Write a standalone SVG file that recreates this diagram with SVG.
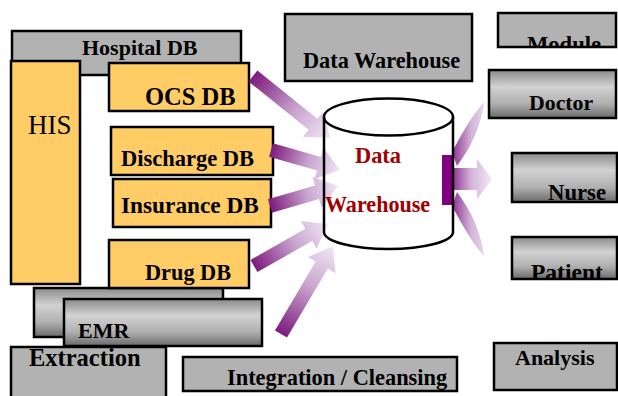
<svg xmlns="http://www.w3.org/2000/svg" width="618" height="396" viewBox="0 0 618 396">
  <defs>
    <!-- shaded "bar" look for the rounded gray boxes -->
    <linearGradient id="barShade" x1="0" y1="0" x2="0" y2="1">
      <stop offset="0" stop-color="#8a8a8a"/>
      <stop offset="0.35" stop-color="#d2d2d2"/>
      <stop offset="0.7" stop-color="#b0b0b0"/>
      <stop offset="1" stop-color="#6a6a6a"/>
    </linearGradient>
    <!-- flow arrows fade from purple tail to pale head -->
    <linearGradient id="flowFade" x1="0" y1="0" x2="1" y2="0">
      <stop offset="0" stop-color="#7d1a7d"/>
      <stop offset="0.55" stop-color="#c9a6cf"/>
      <stop offset="1" stop-color="#f1e6f4"/>
    </linearGradient>
    <linearGradient id="fanFade" gradientUnits="userSpaceOnUse" x1="450" y1="0" x2="492" y2="0">
      <stop offset="0" stop-color="#862086"/>
      <stop offset="0.5" stop-color="#d2b4d8"/>
      <stop offset="1" stop-color="#f3e9f6"/>
    </linearGradient>
    <clipPath id="clipModule"><rect x="498" y="13" width="118" height="33"/></clipPath>
    <clipPath id="clipPatient"><rect x="512" y="237" width="105" height="41"/></clipPath>
    <path id="arrowShape" d="M0,-7 L-22,-7 L-22,-16 L0,0 L-22,16 L-22,7 Z"/>
    <style>
      .box { stroke: #000; stroke-width: 2.5; }
      .gray { fill: #b2b2b2; }
      .orange { fill: #ffcc66; }
      .shade { fill: url(#barShade); }
      .lbl { font-family: "Liberation Serif", "Times New Roman", serif; font-weight: bold; fill: #000; }
      .red { fill: #a00000; }
      .flow { fill: url(#flowFade); }
    </style>
  </defs>

  <rect width="618" height="396" fill="#fff"/>

  <!-- source systems -->
  <g id="hospital-db">
    <rect class="box gray" x="12" y="31" width="229" height="44"/>
    <text class="lbl" x="82" y="55" font-size="22">Hospital DB</text>
  </g>
  <g id="his">
    <rect class="box orange" x="11" y="61" width="69" height="223"/>
    <text x="28" y="134" font-family="Liberation Serif, serif" font-size="27">HIS</text>
  </g>
  <g id="ocs-db">
    <rect class="box orange" x="109" y="63" width="140" height="48"/>
    <text class="lbl" x="145" y="105" font-size="24.5">OCS DB</text>
  </g>
  <g id="discharge-db">
    <rect class="box orange" x="111" y="127" width="162" height="48"/>
    <text class="lbl" x="121" y="166" font-size="22.5">Discharge DB</text>
  </g>
  <g id="insurance-db">
    <rect class="box orange" x="113" y="179" width="158" height="48"/>
    <text class="lbl" x="121" y="213" font-size="23.3">Insurance DB</text>
  </g>
  <g id="emr-back">
    <rect class="box shade" x="34" y="288" width="189" height="49"/>
  </g>
  <g id="drug-db">
    <rect class="box orange" x="109" y="240" width="140" height="48"/>
    <text class="lbl" x="145" y="280" font-size="22.3">Drug DB</text>
  </g>
  <g id="extraction">
    <rect class="box gray" x="11" y="347" width="155" height="55"/>
    <text class="lbl" x="29" y="366" font-size="24.5">Extraction</text>
  </g>
  <g id="emr">
    <rect class="box shade" x="64" y="299" width="198" height="47"/>
    <text class="lbl" x="78" y="338" font-size="22">EMR</text>
  </g>
  <g id="integration">
    <rect class="box gray" x="183" y="357" width="274" height="34"/>
    <text class="lbl" x="227" y="385" font-size="22.4">Integration / Cleansing</text>
  </g>

  <!-- stage headers -->
  <g id="data-warehouse-title">
    <rect class="box gray" x="285" y="14" width="187" height="67"/>
    <text class="lbl" x="303" y="68" font-size="22.3">Data Warehouse</text>
  </g>
  <g id="module">
    <rect class="box gray" x="498" y="13" width="118" height="34"/>
    <text class="lbl" x="527" y="52" font-size="22.6" clip-path="url(#clipModule)">Module</text>
  </g>
  <g id="analysis">
    <rect class="box gray" x="494" y="343" width="123" height="47"/>
    <text class="lbl" x="515" y="365" font-size="22">Analysis</text>
  </g>

  <!-- output modules -->
  <g id="doctor">
    <rect class="box shade" x="489" y="70" width="127" height="48"/>
    <text class="lbl" x="529" y="110" font-size="21.8">Doctor</text>
  </g>
  <g id="nurse">
    <rect class="box shade" x="512" y="153" width="105" height="49"/>
    <text class="lbl" x="548" y="200" font-size="22.7">Nurse</text>
  </g>
  <g id="patient">
    <rect class="box shade" x="512" y="237" width="105" height="42"/>
    <text class="lbl" x="531" y="280" font-size="23.5" clip-path="url(#clipPatient)">Patient</text>
  </g>

  <!-- flows into and out of the warehouse -->
  <g id="connectors">
    <!-- each arrow: tail at origin, pointing along +x -->
    <g transform="translate(253,76) rotate(38.8)">
      <path class="flow" d="M0,-7 L77,-7 L77,-16 L99,0 L77,16 L77,7 L0,7 Z"/>
    </g>
    <g transform="translate(271,150) rotate(15.9)">
      <path class="flow" d="M0,-7 L50,-7 L50,-16 L72,0 L50,16 L50,7 L0,7 Z"/>
    </g>
    <g transform="translate(270,206) rotate(-16.4)">
      <path class="flow" d="M0,-7 L49,-7 L49,-16 L71,0 L49,16 L49,7 L0,7 Z"/>
    </g>
    <g transform="translate(254,266) rotate(-29.6)">
      <path class="flow" d="M0,-7 L63,-7 L63,-16 L85,0 L63,16 L63,7 L0,7 Z"/>
    </g>
    <g transform="translate(281,334) rotate(-59.4)">
      <path class="flow" d="M0,-7 L80,-7 L80,-16 L102,0 L80,16 L80,7 L0,7 Z"/>
    </g>

    <!-- fan out to modules -->
    <g id="fan-out" fill="url(#fanFade)">
      <path d="M452,152 C462,134 470,118 484,102 C482,120 475,142 457,166 Z"/>
      <path d="M452,168 L477,168 L477,159 L492,179 L477,199 L477,190 L452,190 Z"/>
      <path d="M452,206 C462,224 470,240 484,256 C482,238 475,216 457,192 Z"/>
      <rect x="442" y="155" width="10" height="50" fill="#800080"/>
    </g>
  </g>

  <!-- warehouse cylinder -->
  <g id="warehouse">
    <path d="M324,117 L324,232 A64.5,17 0 0 0 453,232 L453,117" fill="none" stroke="#000" stroke-width="2.5"/>
    <ellipse cx="388.5" cy="117" rx="64.5" ry="18.5" fill="none" stroke="#000" stroke-width="2.5"/>
    <text class="lbl red" x="355" y="163" font-size="22.4">Data</text>
    <text class="lbl red" x="325" y="212" font-size="22.1">Warehouse</text>
  </g>
</svg>
